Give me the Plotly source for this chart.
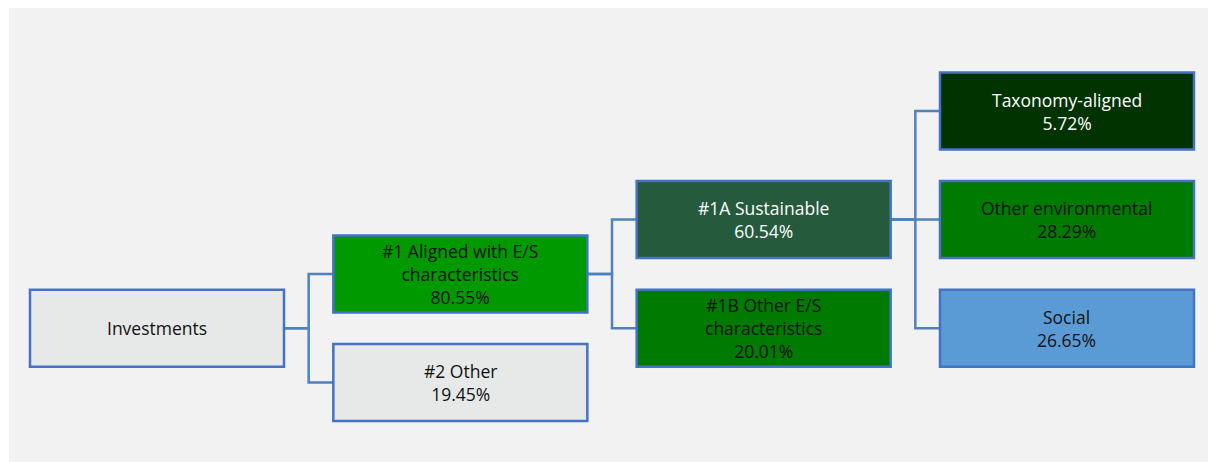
import plotly.graph_objects as go

# ── Data ─────────────────────────────────────────────────────────────────────
labels = ["Investments", "#1 Aligned with E/S<br>characteristics", "#2 Other",
          "#1A Sustainable", "#1B Other E/S<br>characteristics",
          "Taxonomy-aligned", "Other environmental", "Social"]
values = [None, 80.55, 19.45, 60.54, 20.01, 5.72, 28.29, 26.65]
parents = [None, 0, 0, 1, 1, 3, 3, 3]

# ── Layout of the tree (column, row slot) and styling ────────────────────────
cols = [0, 1, 1, 2, 2, 3, 3, 3]
rows = [2, 1.5, 2.5, 1, 2, 0, 1, 2]
fills = ["#e7e9e8", "#009900", "#e7e9e8", "#265a3c", "#007a00",
         "#003300", "#007a00", "#5b9bd5"]
text_colors = ["#111", "#111", "#111", "#fff", "#111", "#fff", "#111", "#111"]

COL_PX, ROW_PX = 303.33, 108.6
BOX_W = 254 / COL_PX
BOX_H = 38.5 / ROW_PX
BORDER = "#4472c4"
LINK = "#4f81bd"
W, H = 1208, 454   # page body has an 8px margin

fig = go.Figure()

shapes = [dict(type="rect", xref="paper", yref="paper", x0=1 / W, x1=1204 / W,
               y0=0, y1=1, fillcolor="#f2f2f2", line_width=0, layer="below")]

# ── Connectors: elbow from parent's right edge to each child's left edge ─────
for i, p in enumerate(parents):
    if p is None:
        continue
    xr = cols[p] + BOX_W
    xm = (xr + cols[i]) / 2
    shapes.append(dict(type="path",
                       path=f"M {xr},{rows[p]} L {xm},{rows[p]} L {xm},{rows[i]} L {cols[i]},{rows[i]}",
                       line=dict(color=LINK, width=2.5)))

# ── Boxes + text ─────────────────────────────────────────────────────────────
for i, lab in enumerate(labels):
    shapes.append(dict(type="rect", x0=cols[i], x1=cols[i] + BOX_W,
                       y0=rows[i] - BOX_H, y1=rows[i] + BOX_H,
                       fillcolor=fills[i], line=dict(color=BORDER, width=2.5)))
    txt = lab if values[i] is None else f"{lab}<br>{values[i]:.2f}%"
    fig.add_annotation(x=cols[i] + BOX_W / 2, y=rows[i], text=txt, showarrow=False,
                       font=dict(size=17.5, color=text_colors[i], family="Open Sans"),
                       align="center")

fig.update_layout(
    width=W, height=H, margin=dict(l=0, r=0, t=0, b=0),
    paper_bgcolor="white", plot_bgcolor="rgba(0,0,0,0)",
    shapes=shapes, showlegend=False,
    xaxis=dict(range=[-22 / COL_PX, (W - 22) / COL_PX], visible=False, fixedrange=True),
    yaxis=dict(range=[(H - 103) / ROW_PX, -103 / ROW_PX], visible=False, fixedrange=True),
)

fig.write_html("out.html")
